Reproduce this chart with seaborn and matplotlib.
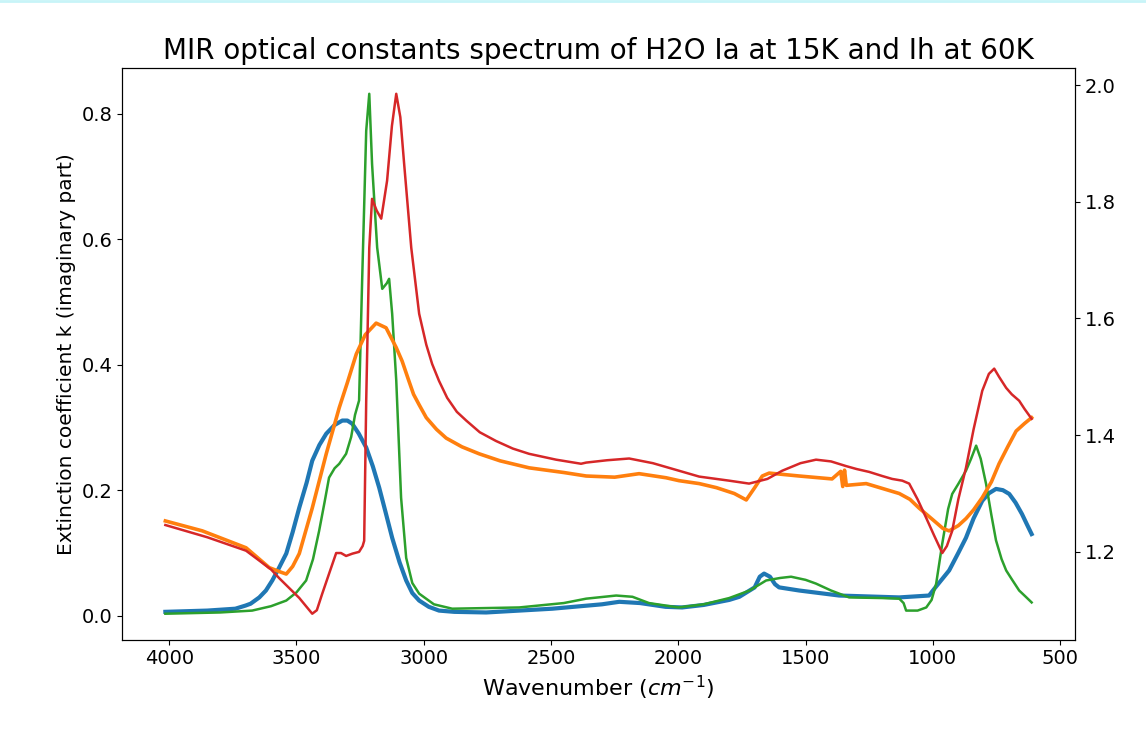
import numpy as np
import pandas as pd
import matplotlib
matplotlib.use('Agg')
import matplotlib.pyplot as plt
import seaborn as sns

# k (imaginary part), H2O Ia at 15K
k_ia_wn = [4015, 3850, 3740, 3700, 3680, 3646, 3620, 3595, 3570, 3540, 3515, 3489, 3460,
           3438, 3410, 3383, 3350, 3320, 3300, 3281, 3255, 3226, 3200, 3175, 3150,
           3124, 3095, 3069, 3045, 3018, 2980, 2940, 2880, 2755, 2495, 2300, 2232,
           2150, 2050, 1985, 1900, 1800, 1760, 1700, 1680, 1663, 1640, 1620, 1604,
           1525, 1368, 1132, 1015, 990, 960, 936, 900, 870, 840, 806, 780, 752, 725,
           700, 675, 650, 630, 612]
k_ia = [0.006, 0.008, 0.011, 0.016, 0.019, 0.029, 0.040, 0.056, 0.075, 0.099, 0.133, 0.172, 0.212,
        0.247, 0.272, 0.290, 0.304, 0.311, 0.311, 0.306, 0.290, 0.268, 0.238, 0.204, 0.165,
        0.124, 0.085, 0.056, 0.036, 0.024, 0.014, 0.008, 0.006, 0.005, 0.011, 0.018, 0.022,
        0.020, 0.014, 0.013, 0.017, 0.025, 0.030, 0.045, 0.062, 0.067, 0.062, 0.050, 0.045,
        0.040, 0.032, 0.029, 0.032, 0.045, 0.060, 0.072, 0.100, 0.124, 0.155, 0.183, 0.195, 0.202, 0.200,
        0.194, 0.180, 0.162, 0.145, 0.130]

# k (imaginary part), H2O Ih at 60K
k_ih_wn = [4015, 3800, 3674, 3600, 3540, 3500, 3462, 3435, 3411, 3390, 3372, 3350, 3332,
           3305, 3285, 3270, 3254, 3242, 3226, 3214, 3203, 3183, 3163, 3145, 3136, 3124,
           3108, 3089, 3069, 3045, 3018, 2960, 2888, 2625, 2450, 2362, 2244, 2180, 2115,
           2000, 1900, 1800, 1720, 1655, 1600, 1557, 1500, 1459, 1400, 1329, 1200, 1132,
           1115, 1105, 1060, 1026, 1005, 987, 963, 940, 924, 900, 870, 850, 830, 812,
           791, 770, 752, 730, 712, 690, 661, 635, 612]
k_ih = [0.003, 0.005, 0.008, 0.015, 0.024, 0.037, 0.056, 0.090, 0.135, 0.180, 0.220, 0.235, 0.242,
        0.258, 0.285, 0.320, 0.343, 0.534, 0.773, 0.832, 0.720, 0.587, 0.521, 0.530, 0.537, 0.481,
        0.375, 0.188, 0.092, 0.052, 0.035, 0.018, 0.011, 0.013, 0.020, 0.027, 0.032, 0.030, 0.020,
        0.013, 0.018, 0.028, 0.040, 0.056, 0.060, 0.062, 0.057, 0.051, 0.040, 0.029, 0.028, 0.027,
        0.020, 0.008, 0.008, 0.013, 0.025, 0.051, 0.115, 0.170, 0.194, 0.210, 0.231, 0.250, 0.271, 0.250,
        0.210, 0.160, 0.120, 0.090, 0.072, 0.058, 0.040, 0.030, 0.021]

# n (real part), H2O Ia at 15K
n_ia_wn = [4015, 3870, 3698, 3607, 3560, 3540, 3515, 3489, 3438, 3383, 3332, 3300, 3265,
           3230, 3187, 3148, 3108, 3085, 3060, 3040, 3018, 2990, 2950, 2912, 2850, 2782,
           2700, 2586, 2450, 2362, 2250, 2154, 2048, 1997, 1918, 1850, 1780, 1733, 1700,
           1670, 1643, 1525, 1396, 1362, 1354, 1347, 1340, 1262, 1132, 1090, 1054, 1000,
           960, 936, 900, 870, 840, 806, 770, 740, 706, 673, 640, 612]
n_ia = [1.253, 1.236, 1.207, 1.173, 1.165, 1.162, 1.175, 1.197, 1.275, 1.368, 1.447, 1.490, 1.539,
        1.572, 1.592, 1.584, 1.550, 1.527, 1.495, 1.470, 1.452, 1.430, 1.410, 1.395, 1.380, 1.368,
        1.356, 1.344, 1.336, 1.330, 1.328, 1.334, 1.327, 1.322, 1.317, 1.310, 1.300, 1.289, 1.310,
        1.330, 1.335, 1.330, 1.325, 1.338, 1.312, 1.340, 1.314, 1.317, 1.300, 1.290, 1.275, 1.255,
        1.240, 1.236, 1.245, 1.257, 1.272, 1.293, 1.320, 1.351, 1.380, 1.407, 1.420, 1.430]

# n (real part), H2O Ih at 60K
n_ih_wn = [4015, 3850, 3698, 3600, 3568, 3489, 3438, 3420, 3399, 3370, 3344, 3325, 3305,
           3280, 3254, 3240, 3234, 3226, 3214, 3203, 3185, 3167, 3144, 3125, 3108, 3092,
           3077, 3049, 3018, 2990, 2967, 2940, 2908, 2870, 2833, 2780, 2716, 2650, 2586,
           2480, 2382, 2362, 2280, 2193, 2100, 1997, 1918, 1800, 1722, 1650, 1592, 1520,
           1459, 1400, 1341, 1300, 1250, 1199, 1160, 1120, 1093, 1060, 1026, 995, 963,
           945, 924, 900, 870, 840, 806, 780, 759, 740, 712, 690, 661, 640, 612]
n_ih = [1.246, 1.225, 1.202, 1.170, 1.155, 1.121, 1.094, 1.100, 1.128, 1.165, 1.198, 1.198, 1.193,
        1.197, 1.200, 1.210, 1.219, 1.459, 1.721, 1.805, 1.785, 1.771, 1.836, 1.930, 1.985, 1.945,
        1.865, 1.721, 1.608, 1.555, 1.522, 1.493, 1.464, 1.440, 1.425, 1.405, 1.390, 1.377, 1.368,
        1.358, 1.351, 1.353, 1.357, 1.360, 1.352, 1.339, 1.329, 1.322, 1.317, 1.325, 1.339, 1.352,
        1.358, 1.355, 1.347, 1.342, 1.337, 1.330, 1.325, 1.322, 1.317, 1.290, 1.258, 1.228, 1.198,
        1.210, 1.236, 1.290, 1.344, 1.410, 1.476, 1.505, 1.514, 1.500, 1.481, 1.470, 1.459, 1.445,
        1.428]

fig, ax = plt.subplots(figsize=(11.46, 7.37), dpi=100)
fig.subplots_adjust(left=0.1065, right=0.938, top=0.908, bottom=0.132)

sns.lineplot(x=k_ia_wn, y=k_ia, ax=ax, color='#1f77b4', linewidth=3.0)
sns.lineplot(x=k_ih_wn, y=k_ih, ax=ax, color='#2ca02c', linewidth=1.8)
ax.set_ylabel('Extinction coefficient k (imaginary part)', fontsize=14.5)
ax.set_xlabel('Wavenumber ($cm^{-1}$)', fontsize=16)
ax.tick_params(labelsize=14)

ax2 = ax.twinx()
sns.lineplot(x=n_ia_wn, y=n_ia, ax=ax2, color='#ff7f0e', linewidth=2.6)
sns.lineplot(x=n_ih_wn, y=n_ih, ax=ax2, color='#d62728', linewidth=1.8)
ax2.tick_params(labelsize=14)
ax2.set_yticks([1.2, 1.4, 1.6, 1.8, 2.0])

ax.set_xticks([4000, 3500, 3000, 2500, 2000, 1500, 1000, 500])
ax.invert_xaxis()
ax.set_title('MIR optical constants spectrum of H2O Ia at 15K and Ih at 60K', fontsize=20)

fig.add_artist(plt.Line2D([0, 1], [0.998, 0.998], transform=fig.transFigure,
                          color='#c8f4f8', linewidth=2))

fig.savefig('out.png', dpi=100)
